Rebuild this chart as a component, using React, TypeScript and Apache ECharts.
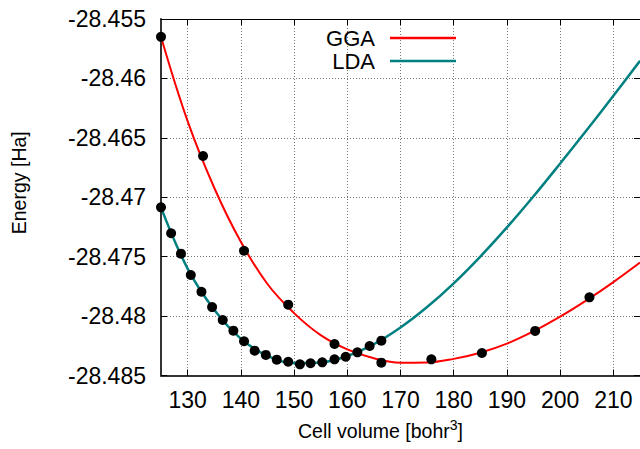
import React, { useEffect, useRef } from "react";
import * as echarts from "echarts";

// Measured points (black dots)
const ggaVolumes = [125, 132.9, 140.6, 148.9, 157.6, 166.4, 175.8, 185.3, 195.3, 205.5];
const ggaEnergies = [-28.4565, -28.46653, -28.4745, -28.47904, -28.48235, -28.48392, -28.48364, -28.48311, -28.48125, -28.47842];

const ldaVolumes = [125, 126.9, 128.75, 130.6, 132.6, 134.6, 136.6, 138.6, 140.6, 142.6, 144.7, 146.75, 148.9, 151.1, 153.1, 155.3, 157.6, 159.7, 161.9, 164.2, 166.4];
const ldaEnergies = [-28.47085, -28.47303, -28.47475, -28.47654, -28.47795, -28.47924, -28.48033, -28.48123, -28.48212, -28.48291, -28.48327, -28.48367, -28.48384, -28.48406, -28.48397, -28.48389, -28.48364, -28.48342, -28.48305, -28.48252, -28.48207];

// Fitted curves
const fitVolumes = [125, 130, 135, 140, 145, 150, 155, 160, 165, 170, 175, 180, 185, 190, 195, 200, 205, 210, 215];
const ggaFit = [-28.4565, -28.4636, -28.4692, -28.47375, -28.4773, -28.47975, -28.4816, -28.4828, -28.48355, -28.48392, -28.4839, -28.4836, -28.48308, -28.48232, -28.48128, -28.48005, -28.47866, -28.47714, -28.4755];
const ldaFit = [-28.47085, -28.476, -28.47946, -28.4819, -28.48335, -28.48395, -28.4839, -28.48336, -28.48236, -28.48096, -28.47924, -28.47724, -28.47499, -28.47254, -28.46992, -28.46716, -28.46434, -28.46146, -28.45852];

const xTicks = [130, 140, 150, 160, 170, 180, 190, 200, 210];

const seriesNames = ["GGA", "LDA"];
const colors = ["#ff0000", "#008080"];

const FONT = "'Liberation Sans', Arial, sans-serif";

const zip = (xs: number[], ys: number[]) => xs.map((x, i) => [x, ys[i]]);

export default function App() {
  const ref = useRef<HTMLDivElement>(null);
  useEffect(() => {
    if (!ref.current) return;
    const chart = echarts.init(ref.current, null, { renderer: "svg" });
    const gridLine = { show: true, lineStyle: { color: "#777", type: [1, 2] as any, width: 1 } };
    chart.setOption({
      animation: false,
      backgroundColor: "#ffffff",
      textStyle: { fontFamily: FONT },
      grid: { left: 161, top: 19, right: -1, bottom: 73.5, containLabel: false },
      legend: {
        data: seriesNames,
        orient: "vertical",
        align: "right",
        right: 184,
        top: 27,
        padding: 0,
        itemGap: 1,
        itemWidth: 66,
        itemHeight: 2.5,
        icon: "rect",
        textStyle: { fontSize: 22, color: "#000", fontFamily: FONT, lineHeight: 22, padding: [0, 10, 0, 0] },
      },
      xAxis: [
        {
          type: "value",
          min: 125,
          max: 215,
          splitNumber: 9,
          name: "Cell volume [bohr{sup|3}]",
          nameLocation: "middle",
          nameGap: 42,
          nameTextStyle: {
            fontSize: 19.5,
            color: "#000",
            fontFamily: FONT,
            lineHeight: 26,
            padding: [0, 40, 0, 0],
            rich: { sup: { fontSize: 14, verticalAlign: "top", lineHeight: 14, color: "#000", fontFamily: FONT } },
          },
          axisLine: { show: true, onZero: false, lineStyle: { color: "#333", width: 2 } },
          axisTick: { show: true, inside: true, length: 6, customValues: xTicks, lineStyle: { color: "#000" } },
          axisLabel: { fontSize: 23, color: "#000", margin: 13, customValues: xTicks, fontFamily: FONT },
          splitLine: gridLine,
        },
        {
          type: "value",
          position: "top",
          min: 125,
          max: 215,
          splitNumber: 9,
          axisLine: { show: true, onZero: false, lineStyle: { color: "#000", width: 1 } },
          axisTick: { show: true, inside: true, length: 6, customValues: xTicks, lineStyle: { color: "#000" } },
          axisLabel: { show: false },
          splitLine: { show: false },
        },
      ],
      yAxis: [
        {
          type: "value",
          min: -28.485,
          max: -28.455,
          interval: 0.005,
          name: "Energy [Ha]",
          nameLocation: "middle",
          nameGap: 132,
          nameTextStyle: { fontSize: 19.5, color: "#000", fontFamily: FONT, padding: [0, 0, 0, 29] },
          axisLine: { show: true, onZero: false, lineStyle: { color: "#333", width: 2 } },
          axisTick: { show: true, inside: true, length: 6, lineStyle: { color: "#000" } },
          axisLabel: {
            fontSize: 23,
            color: "#000",
            margin: 15,
            fontFamily: FONT,
            formatter: (v: number) => String(parseFloat(v.toFixed(3))),
          },
          splitLine: gridLine,
        },
        {
          type: "value",
          position: "right",
          min: -28.485,
          max: -28.455,
          interval: 0.005,
          axisLine: { show: true, onZero: false, lineStyle: { color: "#000", width: 1 } },
          axisTick: { show: true, inside: true, length: 6, lineStyle: { color: "#000" } },
          axisLabel: { show: false },
          splitLine: { show: false },
        },
      ],
      series: [
        {
          name: "GGA",
          type: "line",
          data: zip(fitVolumes, ggaFit),
          showSymbol: false,
          smooth: 0.4,
          lineStyle: { color: colors[0], width: 2 },
          itemStyle: { color: colors[0] },
          z: 2,
        },
        {
          name: "LDA",
          type: "line",
          data: zip(fitVolumes, ldaFit),
          showSymbol: false,
          smooth: 0.4,
          lineStyle: { color: colors[1], width: 2.5 },
          itemStyle: { color: colors[1] },
          z: 2,
        },
        {
          name: "GGA points",
          type: "scatter",
          data: zip(ggaVolumes, ggaEnergies),
          symbolSize: 10,
          itemStyle: { color: "#000", opacity: 1 },
          z: 3,
        },
        {
          name: "LDA points",
          type: "scatter",
          data: zip(ldaVolumes, ldaEnergies),
          symbolSize: 10,
          itemStyle: { color: "#000", opacity: 1 },
          z: 3,
        },
      ],
    });
    return () => chart.dispose();
  }, []);
  return <div ref={ref} style={{ width: 640, height: 449, position: "absolute", left: 0, top: 0 }} />;
}
